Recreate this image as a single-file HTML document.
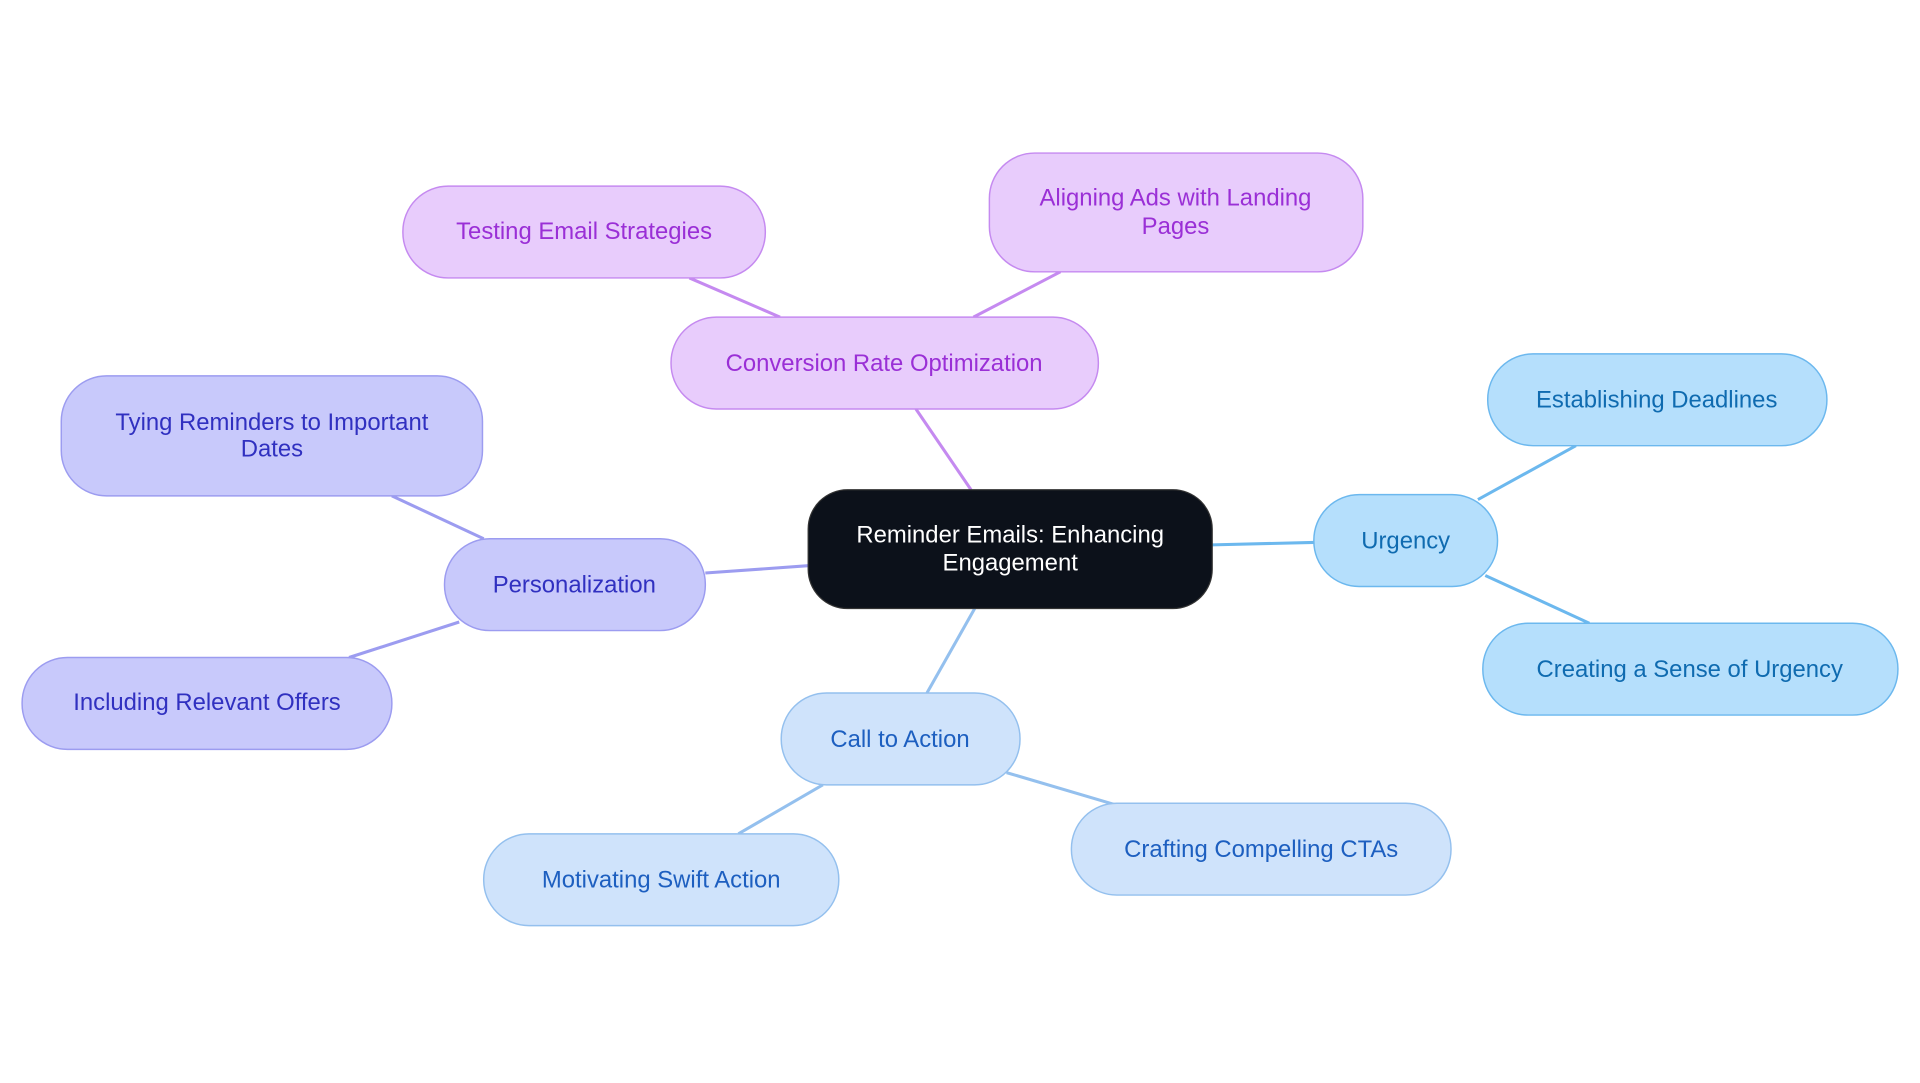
<!DOCTYPE html>
<html><head><meta charset="utf-8"><style>html,body{margin:0;padding:0;background:#fff;width:1920px;height:1083px;overflow:hidden}svg text{font-family:"Liberation Sans",sans-serif;font-size:19.5px;text-anchor:middle}</style></head>
<body>
<svg width="1920" height="1083" viewBox="0 0 1568 884.5" xmlns="http://www.w3.org/2000/svg">
<g stroke-width="2.5" fill="none">
<path d="M793 400L748 334" stroke="#c58af0"/>
<path d="M637 259L563 227" stroke="#c58af0"/>
<path d="M795 259L866 222" stroke="#c58af0"/>
<path d="M660 462L576 468" stroke="#9c9cf0"/>
<path d="M395 440L320 405" stroke="#9c9cf0"/>
<path d="M375 508L285 537" stroke="#9c9cf0"/>
<path d="M990 445L1073 443" stroke="#6cb8ee"/>
<path d="M1207 408L1287 364" stroke="#6cb8ee"/>
<path d="M1213 470L1298 509" stroke="#6cb8ee"/>
<path d="M796 497L757 566" stroke="#94c0ee"/>
<path d="M672 641L603 681" stroke="#94c0ee"/>
<path d="M822 631L910 657" stroke="#94c0ee"/>
</g>
<rect x="660" y="400" width="330" height="97" rx="32" fill="#0c111a" stroke="#333"/>
<text x="825" y="443" fill="#fff">Reminder Emails: Enhancing</text>
<text x="825" y="466" fill="#fff">Engagement</text>
<g fill="#e8ccfc" stroke="#c58af0" stroke-width="1.2">
<rect x="548" y="259" width="349" height="75" rx="37"/>
<rect x="329" y="152" width="296" height="75" rx="37"/>
<rect x="808" y="125" width="305" height="97" rx="37"/>
</g>
<g fill="#9a2fd6">
<text x="722" y="303">Conversion Rate Optimization</text>
<text x="477" y="195">Testing Email Strategies</text>
<text x="960" y="168">Aligning Ads with Landing</text>
<text x="960" y="191">Pages</text>
</g>
<g fill="#c8c9fb" stroke="#9c9cf0" stroke-width="1.2">
<rect x="363" y="440" width="213" height="75" rx="37"/>
<rect x="50" y="307" width="344" height="98" rx="37"/>
<rect x="18" y="537" width="302" height="75" rx="37"/>
</g>
<g fill="#3030c0">
<text x="469" y="484">Personalization</text>
<text x="222" y="351">Tying Reminders to Important</text>
<text x="222" y="373">Dates</text>
<text x="169" y="580">Including Relevant Offers</text>
</g>
<g fill="#b5dffc" stroke="#6cb8ee" stroke-width="1.2">
<rect x="1073" y="404" width="150" height="75" rx="37"/>
<rect x="1215" y="289" width="277" height="75" rx="37"/>
<rect x="1211" y="509" width="339" height="75" rx="37"/>
</g>
<g fill="#0f6bb0">
<text x="1148" y="448">Urgency</text>
<text x="1353" y="333">Establishing Deadlines</text>
<text x="1380" y="553">Creating a Sense of Urgency</text>
</g>
<g fill="#cfe3fb" stroke="#94c0ee" stroke-width="1.2">
<rect x="638" y="566" width="195" height="75" rx="37"/>
<rect x="395" y="681" width="290" height="75" rx="37"/>
<rect x="875" y="656" width="310" height="75" rx="37"/>
</g>
<g fill="#1d5fc0">
<text x="735" y="610">Call to Action</text>
<text x="540" y="725">Motivating Swift Action</text>
<text x="1030" y="700">Crafting Compelling CTAs</text>
</g>
</svg>
</body></html>
